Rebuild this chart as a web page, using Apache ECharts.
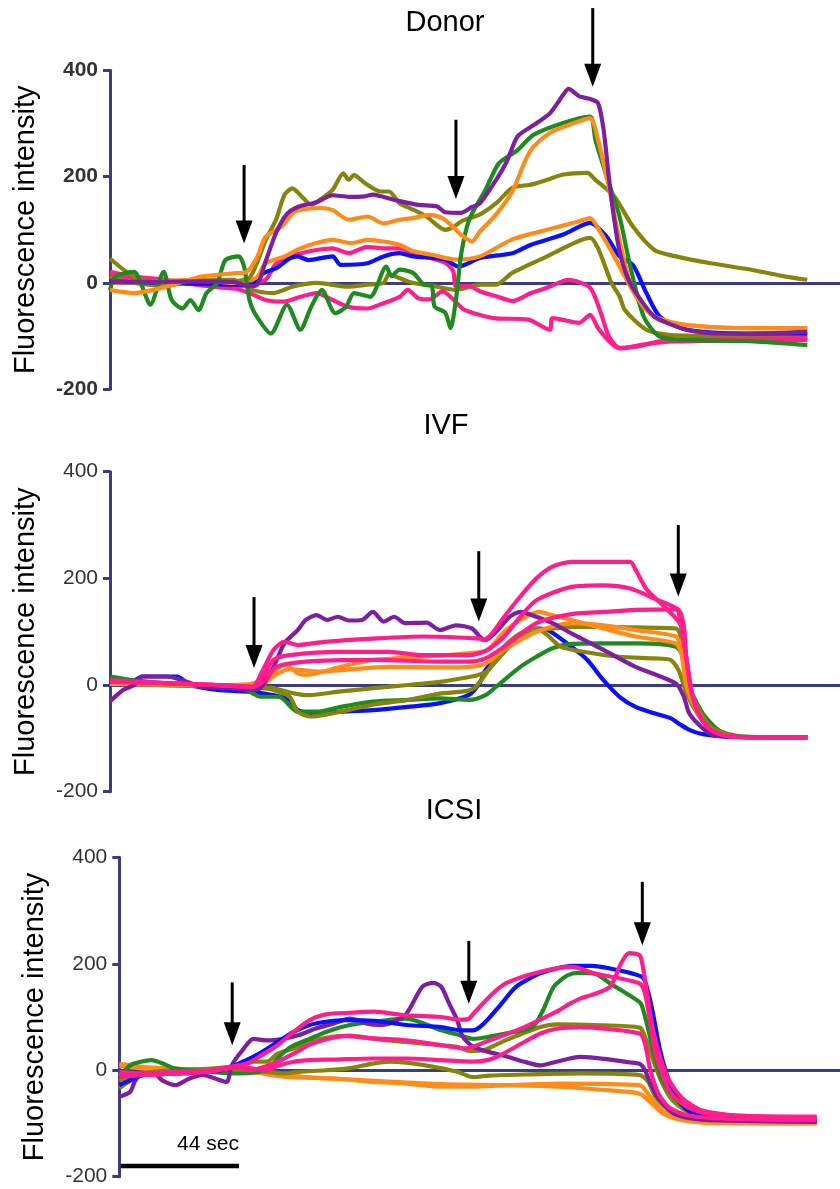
<!DOCTYPE html>
<html>
<head>
<meta charset="utf-8">
<script src="https://cdn.jsdelivr.net/npm/echarts@6/dist/echarts.min.js"></script>
<style>
  html, body { margin: 0; padding: 0; background: #fff; }
  #chart { width: 840px; height: 1189px; }
</style>
</head>
<body>
<div id="chart"></div>
<script>
// Time in seconds from the start of the recording, value = fluorescence intensity.

// ---- Donor ----
const donorPurple = [[0,2],[15,2],[34,3],[46,2],[52,-6],[55,-3],[58,40],[62,95],[66,130],[70,143],[77,152],[83,165],[89,162],[95,163],[98,166],[101,163],[108,154],[115,147],[122,144],[125,133],[131,132],[135,143],[138,150],[144,194],[148,229],[152,276],[158,297],[164,319],[169,354],[171,365],[175,351],[179,346],[182,338],[184,290],[186,200],[188,120],[190,60],[193,10],[197,-25],[203,-63],[215,-88],[227,-95],[240,-95],[260,-92]];
const donorOlive1 = [[0,46],[9,12],[21,0],[34,5],[46,3],[52,10],[55,40],[58,80],[62,120],[65,165],[68,178],[72,160],[75,147],[79,159],[83,175],[87,206],[89,194],[91,203],[95,188],[101,172],[104,172],[108,150],[113,138],[118,125],[125,100],[128,105],[131,116],[138,129],[144,150],[150,179],[157,185],[163,194],[169,204],[178,207],[181,194],[188,163],[195,106],[203,62],[211,50],[224,37],[240,24],[252,12],[260,6]];
const donorOrange1 = [[0,-13],[9,-19],[21,-7],[34,12],[46,18],[51,21],[55,50],[58,87],[64,106],[69,134],[78,141],[83,137],[89,119],[96,125],[102,112],[108,119],[113,122],[119,128],[124,122],[129,100],[131,90],[135,78],[138,97],[144,129],[150,172],[155,232],[158,257],[164,282],[171,297],[179,310],[182,269],[186,181],[190,81],[194,0],[199,-45],[205,-70],[215,-79],[240,-85],[260,-85]];
const donorGreen = [[0,-13],[2,12],[9,21],[12,-7],[15,-41],[20,21],[23,-32],[27,-48],[30,-32],[33,-51],[36,-19],[40,0],[43,43],[48,50],[50,31],[52,-32],[54,-57],[60,-95],[66,-41],[71,-88],[75,-45],[79,-13],[84,-57],[88,-45],[91,-19],[97,-26],[103,31],[105,13],[108,25],[113,19],[117,-3],[120,-6],[121,-44],[125,-56],[127,-85],[129,-31],[131,56],[134,120],[140,175],[145,225],[152,250],[158,279],[169,301],[179,313],[181,269],[186,188],[190,125],[194,31],[199,-63],[205,-101],[215,-107],[240,-110],[260,-117]];
const donorOrange2 = [[0,0],[34,6],[46,0],[52,5],[55,12],[58,37],[65,50],[71,65],[77,75],[83,81],[90,75],[96,81],[102,78],[108,72],[113,60],[120,53],[129,44],[138,50],[150,82],[163,100],[175,116],[179,122],[183,94],[188,50],[192,12],[197,-32],[203,-63],[215,-79],[240,-85],[260,-85]];
const donorBlue = [[0,3],[21,0],[46,-3],[53,-3],[57,18],[62,28],[67,46],[70,50],[74,43],[83,50],[86,34],[96,37],[102,50],[108,56],[113,50],[125,44],[130,31],[138,47],[150,56],[157,72],[169,91],[179,113],[185,88],[190,50],[195,34],[200,-19],[205,-63],[215,-88],[240,-95],[260,-95]];
const donorPink1 = [[0,21],[9,12],[21,6],[34,-4],[46,-10],[53,0],[58,6],[62,37],[67,50],[77,62],[83,65],[89,56],[96,68],[102,65],[108,65],[113,56],[125,38],[128,22],[129,-6],[134,-6],[138,-16],[144,-25],[150,-34],[157,-19],[163,-9],[171,6],[179,-9],[183,-56],[186,-100],[190,-122],[196,-120],[205,-110],[215,-107],[260,-104]];
const donorPink2 = [[0,18],[9,9],[34,-4],[46,-10],[52,-19],[58,-32],[65,-35],[71,-26],[77,-19],[83,-32],[89,-45],[96,-48],[102,-38],[108,-26],[111,-13],[115,-29],[119,-31],[124,-16],[128,-31],[132,-50],[143,-66],[156,-69],[164,-88],[165,-66],[175,-75],[179,-60],[182,-85],[187,-114],[190,-123],[200,-115],[210,-110],[260,-107]];
const donorOlive2 = [[0,12],[9,0],[21,-5],[34,6],[46,6],[53,-13],[61,-19],[68,-7],[77,0],[89,-7],[96,-3],[102,0],[104,16],[108,9],[113,0],[120,-5],[129,-13],[138,-3],[144,-3],[150,19],[163,50],[179,85],[182,65],[187,0],[190,-25],[192,-51],[200,-88],[209,-98],[260,-101]];
// [time, shaft top, tip]
const donorArrows = [[50,222,74],[129,307,158],[180,517,369]];

// ---- IVF ----
const ivfPurple = [[0,-31],[5,-9],[9,0],[12,16],[21,16],[27,9],[34,-3],[46,-6],[53,-9],[56,-6],[61,34],[65,78],[70,103],[73,122],[77,131],[81,122],[85,128],[89,121],[94,122],[98,137],[102,119],[106,128],[110,116],[118,117],[123,103],[129,112],[135,106],[138,90],[140,84],[144,100],[149,128],[153,137],[159,128],[165,116],[172,97],[184,66],[196,34],[211,3],[214,-22],[216,-53],[221,-81],[225,-94],[234,-97],[260,-98]];
const ivfPinkA = [[0,9],[20,4],[40,0],[53,-3],[57,28],[61,66],[65,81],[70,75],[80,81],[98,87],[117,91],[138,87],[139,84],[142,94],[147,128],[153,166],[159,200],[165,222],[172,231],[184,231],[194,231],[196,216],[200,180],[205,155],[211,125],[213,110],[215,47],[217,-16],[220,-59],[224,-84],[230,-95],[240,-98],[260,-98]];
const ivfPinkB = [[0,8],[20,3],[40,0],[53,-4],[57,15],[61,47],[67,56],[86,62],[104,62],[117,56],[134,56],[138,60],[142,70],[147,91],[153,128],[159,159],[172,184],[184,187],[194,181],[203,162],[212,141],[214,110],[215,47],[217,-16],[220,-59],[224,-84],[230,-95],[240,-98],[260,-98]];
const ivfPinkC = [[0,6],[20,3],[40,0],[53,-4],[58,10],[62,34],[73,44],[98,47],[123,44],[134,44],[140,50],[147,72],[159,116],[172,133],[184,137],[196,141],[211,142],[213,110],[215,47],[217,-16],[220,-59],[224,-84],[230,-95],[240,-98],[260,-98]];
const ivfOrangeA = [[0,4],[20,3],[40,0],[52,2],[56,8],[61,25],[65,39],[70,22],[73,19],[86,34],[98,47],[117,53],[138,62],[141,66],[147,100],[153,122],[160,137],[165,131],[172,122],[184,106],[196,91],[211,78],[213,60],[215,-3],[219,-50],[224,-84],[230,-95],[240,-98],[260,-98]];
const ivfOrangeB = [[0,2],[40,0],[53,-2],[58,5],[62,20],[67,30],[78,25],[86,28],[104,34],[123,33],[134,34],[140,40],[147,66],[159,100],[172,116],[184,112],[196,103],[211,91],[213,70],[216,0],[219,-50],[224,-84],[230,-95],[240,-98],[260,-98]];
const ivfOliveA = [[0,3],[20,0],[40,-2],[48,-3],[56,-4],[61,-6],[69,-16],[74,-19],[86,-12],[98,-6],[111,0],[123,6],[134,15],[138,20],[141,28],[147,62],[153,91],[159,103],[165,106],[172,109],[184,109],[196,108],[211,106],[214,60],[216,-3],[220,-50],[224,-78],[232,-95],[240,-98],[260,-98]];
const ivfOliveB = [[0,2],[20,0],[40,-3],[56,-6],[60,-8],[67,-22],[70,-50],[75,-59],[83,-53],[98,-37],[111,-28],[123,-16],[132,-12],[136,-5],[140,20],[147,72],[153,97],[159,106],[163,94],[168,72],[177,62],[190,53],[203,50],[209,47],[212,28],[215,-16],[219,-53],[224,-82],[232,-95],[240,-98],[260,-98]];
const ivfGreen = [[0,16],[9,9],[21,3],[34,0],[46,-3],[50,-8],[53,-15],[56,-22],[63,-22],[70,-50],[77,-50],[86,-41],[98,-31],[111,-28],[123,-25],[134,-28],[140,-19],[144,-3],[153,34],[159,53],[165,69],[172,77],[184,78],[196,78],[211,72],[214,50],[216,-3],[221,-53],[227,-85],[235,-96],[260,-98]];
const ivfBlue = [[0,6],[9,9],[12,16],[25,16],[30,0],[40,-9],[50,-12],[56,-15],[61,-19],[67,-28],[70,-47],[75,-53],[86,-50],[98,-47],[111,-41],[123,-34],[134,-18],[138,5],[140,28],[147,66],[153,91],[159,106],[163,104],[172,72],[178,47],[184,9],[190,-22],[196,-41],[203,-53],[209,-62],[212,-72],[216,-84],[221,-92],[230,-97],[260,-98]];
const ivfArrows = [[53.7,165,32],[137.5,251,119],[211.9,300,166]];

// ---- ICSI ----
const icsiPurple = [[0,-50],[4,-41],[6,-19],[9,-6],[13,-6],[16,-19],[21,-28],[26,-16],[31,-9],[36,-16],[40,-22],[42,10],[46,38],[50,59],[55,56],[61,59],[67,66],[73,78],[80,88],[86,97],[89,94],[92,88],[97,85],[101,88],[107,106],[113,157],[117,164],[120,157],[123,125],[126,94],[128,63],[132,44],[138,34],[145,25],[151,16],[157,9],[163,16],[172,25],[183,20],[190,15],[194,12],[196,0],[198,-25],[201,-53],[207,-82],[217,-93],[260,-97]];
const icsiBlue = [[0,-28],[4,-19],[9,-9],[21,-6],[34,-3],[40,3],[46,16],[52,31],[59,53],[65,72],[71,85],[77,91],[84,94],[95,93],[107,85],[120,81],[127,75],[132,75],[136,88],[142,122],[148,157],[157,182],[169,196],[176,196],[183,191],[195,175],[197,150],[199,106],[201.5,40],[204,-6],[207,-45],[212,-75],[220,-88],[240,-93],[260,-94]];
const icsiPinkA = [[0,-9],[9,-9],[21,-6],[34,0],[44,9],[48,13],[52,25],[59,47],[65,72],[71,94],[77,105],[86,108],[95,110],[107,103],[120,100],[127,95],[130,96],[132,106],[138,138],[144,163],[157,185],[169,194],[177,182],[194,163],[196,144],[198,88],[200,31],[203,-15],[206,-45],[212,-70],[220,-82],[240,-87],[260,-88]];
const icsiPinkB = [[0,-13],[9,-9],[21,-6],[34,-3],[44,6],[48,0],[52,3],[59,16],[66,34],[71,48],[77,58],[84,64],[95,60],[107,56],[120,47],[129,41],[138,56],[151,81],[163,110],[168,125],[172,135],[177,143],[183,157],[187,200],[190,220],[194,216],[195,200],[197,138],[199,75],[202,19],[205,-19],[210,-53],[217,-75],[230,-85],[260,-87]];
const icsiPinkC = [[0,-3],[9,-6],[21,-3],[34,0],[44,6],[50,3],[55,0],[59,8],[65,16],[71,19],[80,20],[95,22],[107,22],[120,19],[132,16],[138,20],[142,28],[151,53],[157,69],[163,78],[172,81],[177,80],[194,69],[196,50],[198,0],[201,-44],[205,-70],[212,-85],[230,-92],[260,-94]];
const icsiGreen = [[0,-13],[4,9],[8,16],[12,19],[16,13],[21,3],[34,-3],[44,-6],[52,-3],[56,3],[59,22],[64,44],[71,59],[77,72],[86,85],[95,91],[107,97],[120,75],[127,66],[132,59],[144,69],[154,81],[158,113],[162,157],[167,178],[171,183],[177,182],[183,163],[194,128],[195,119],[197,81],[199,38],[202,-13],[206,-45],[212,-75],[220,-89],[260,-94]];
const icsiOliveA = [[0,-34],[4,-20],[9,-9],[21,0],[34,3],[46,9],[50,16],[55,16],[59,31],[65,41],[71,53],[77,61],[86,65],[95,59],[107,53],[120,47],[126,44],[131,36],[136,38],[144,56],[157,81],[163,86],[177,85],[194,80],[196,63],[199,20],[202,-20],[206,-55],[212,-78],[220,-90],[260,-95]];
const icsiOliveB = [[0,-20],[9,-6],[21,0],[34,0],[46,3],[55,-3],[61,-6],[67,-3],[77,0],[86,4],[95,13],[101,16],[113,10],[126,-3],[132,-13],[138,-10],[151,-8],[172,-6],[194,-9],[197,-20],[200,-50],[205,-75],[212,-90],[260,-96]];
const icsiOrangeA = [[0,12],[5,9],[9,6],[21,3],[34,0],[46,-3],[55,-6],[61,-9],[73,-14],[82,-16],[95,-22],[107,-25],[120,-31],[132,-31],[145,-28],[164,-25],[194,-28],[198,-50],[203,-78],[210,-92],[220,-98],[260,-100]];
const icsiOrangeB = [[0,8],[9,3],[21,0],[34,0],[46,0],[52,-3],[55,-8],[61,-12],[80,-16],[95,-20],[120,-26],[145,-28],[164,-31],[183,-38],[194,-44],[198,-60],[203,-82],[210,-94],[220,-99],[260,-100]];
const icsiArrows = [[42.1,165,47],[130.3,243,125],[195,354,235]];

// 44-second scale bar
const scaleBar = [[0.6,-180],[44.6,-180]];
const scaleLabel = '44 sec';

const yTicks = { min: -200, max: 400, interval: 200 };
const panelTitles = ['Donor', 'IVF', 'ICSI'];
const yName = 'Fluorescence intensity';

const C = {
  purple: '#7d1fa0',
  green: '#1f8a1f',
  orange: '#ff8c1a',
  olive: '#85850c',
  blue: '#0a10ff',
  pink: '#ff1e8c'
};
const NAVY = '#3a3d86';
const FONT = '"Liberation Sans", Arial, Helvetica, sans-serif';

const panels = [
  { grid: { left: 110, top: 70.3, height: 319, right: 0 }, xMax: 272.2, bold: true, titleX: 445, titleY: 23,
    lines: [[donorOlive2, C.olive], [donorPink2, C.pink], [donorPink1, C.pink], [donorBlue, C.blue], [donorOrange2, C.orange],
            [donorOlive1, C.olive], [donorGreen, C.green], [donorOrange1, C.orange], [donorPurple, C.purple]],
    arrows: donorArrows },
  { grid: { left: 110, top: 471.7, height: 320, right: 0 }, xMax: 272.2, bold: false, titleX: 446, titleY: 426,
    lines: [[ivfBlue, C.blue], [ivfGreen, C.green], [ivfOliveB, C.olive], [ivfOliveA, C.olive], [ivfOrangeB, C.orange],
            [ivfOrangeA, C.orange], [ivfPurple, C.purple], [ivfPinkC, C.pink], [ivfPinkB, C.pink], [ivfPinkA, C.pink]],
    arrows: ivfArrows },
  { grid: { left: 119.3, top: 857.3, height: 319.4, right: 0 }, xMax: 268.7, bold: false, titleX: 454, titleY: 811,
    lines: [[icsiOrangeB, C.orange], [icsiOrangeA, C.orange], [icsiOliveB, C.olive], [icsiOliveA, C.olive], [icsiGreen, C.green],
            [icsiPurple, C.purple], [icsiBlue, C.blue], [icsiPinkC, C.pink], [icsiPinkB, C.pink], [icsiPinkA, C.pink]],
    arrows: icsiArrows }
];

function arrowRender(params, api) {
  const top = api.coord([api.value(0), api.value(1)]);
  const tip = api.coord([api.value(0), api.value(2)]);
  const headH = 23, headW = 17;
  return {
    type: 'group',
    children: [
      { type: 'line', shape: { x1: top[0], y1: top[1], x2: tip[0], y2: tip[1] - headH + 2 },
        style: { stroke: '#000', lineWidth: 3 } },
      { type: 'polygon', shape: { points: [[tip[0] - headW / 2, tip[1] - headH], [tip[0] + headW / 2, tip[1] - headH], [tip[0], tip[1]]] },
        style: { fill: '#000' } }
    ]
  };
}

const option = {
  animation: false,
  backgroundColor: '#fff',
  textStyle: { fontFamily: FONT },
  grid: [], xAxis: [], yAxis: [], series: [],
  graphic: []
};

panels.forEach((p, i) => {
  option.grid.push(Object.assign({ outerBoundsMode: 'none', containLabel: false }, p.grid));
  option.xAxis.push({
    type: 'value', gridIndex: i, min: 0, max: p.xMax,
    axisLine: { show: true, onZero: true, lineStyle: { color: NAVY, width: 3 } },
    axisTick: { show: false }, axisLabel: { show: false }, splitLine: { show: false }
  });
  option.yAxis.push({
    type: 'value', gridIndex: i, min: yTicks.min, max: yTicks.max, interval: yTicks.interval,
    name: yName, nameLocation: 'middle', nameRotate: 90, nameGap: 70,
    nameTextStyle: { fontSize: 29, color: '#000', fontFamily: FONT },
    axisLine: { show: true, onZero: false, lineStyle: { color: NAVY, width: 3 } },
    axisTick: { show: true, inside: false, length: 7, lineStyle: { color: NAVY, width: 3 } },
    axisLabel: { fontSize: 21, margin: 12, color: '#333', fontWeight: p.bold ? 'bold' : 'normal', fontFamily: FONT },
    splitLine: { show: false }
  });
  p.lines.forEach(([data, color]) => {
    option.series.push({
      type: 'line', xAxisIndex: i, yAxisIndex: i, data: data,
      showSymbol: false, symbol: 'none', smooth: 0.25, silent: true,
      lineStyle: { color: color, width: 4.2, join: 'round' }
    });
  });
  option.series.push({
    type: 'custom', xAxisIndex: i, yAxisIndex: i, data: p.arrows,
    renderItem: arrowRender, clip: false, silent: true, z: 10
  });
  option.graphic.push({
    type: 'text', x: p.titleX, y: p.titleY, silent: true,
    style: { text: panelTitles[i], fontSize: 29, fill: '#000', fontFamily: FONT, align: 'center', verticalAlign: 'middle' }
  });
});

// scale bar on the ICSI panel
option.series.push({
  type: 'line', xAxisIndex: 2, yAxisIndex: 2, silent: true,
  data: [{ value: scaleBar[0] }, { value: scaleBar[1], label: { show: true, formatter: scaleLabel } }],
  symbol: 'circle', symbolSize: 0, showSymbol: true,
  lineStyle: { color: '#000', width: 4.5 }, itemStyle: { color: '#000' },
  label: { show: false, position: 'top', align: 'right', distance: 11, fontSize: 21, color: '#000', fontFamily: FONT },
  z: 5
});

const chart = echarts.init(document.getElementById('chart'), null, { renderer: 'canvas' });
chart.setOption(option);
</script>
</body>
</html>
